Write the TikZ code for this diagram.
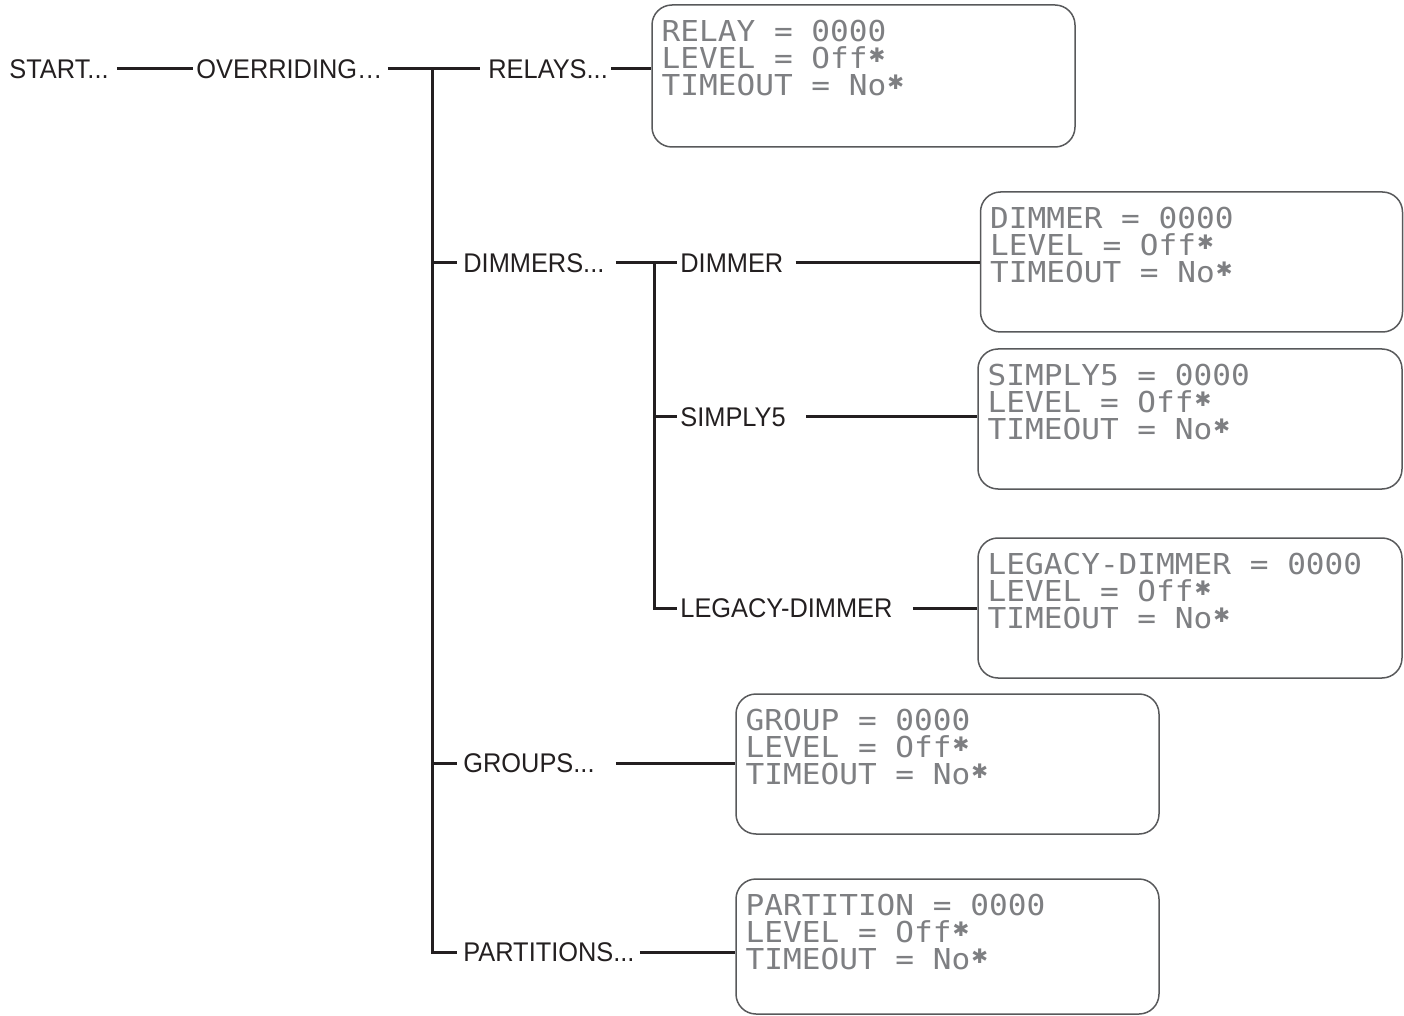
\documentclass[tikz,border=0pt]{standalone}
\usepackage{fontspec}
\setmainfont{Liberation Sans}[FakeStretch=0.94]
\newfontfamily\lcdfont{DejaVu Sans Mono}[FakeStretch=1.08]
\newfontfamily\symfont{DejaVu Sans}
\definecolor{ink}{HTML}{231F20}
\definecolor{boxgray}{HTML}{58595B}
\definecolor{lcdgray}{HTML}{7E7F82}
\newcommand\lcdstar{\makebox[9.36pt][c]{\raisebox{3pt}{\symfont\fontsize{10}{10}\selectfont ✱}}}
\tikzset{
  lbl/.style={anchor=west, inner sep=0pt, text=ink, font=\fontsize{13.5}{16}\selectfont},
  lcdbox/.style={draw=boxgray, line width=0.75pt, rounded corners=10pt, inner sep=0pt},
  lcdtext/.style={anchor=north west, inner sep=0pt, align=left, text=lcdgray,
    font=\lcdfont\fontsize{14.4}{13.5}\selectfont},
  conn/.style={draw=ink, line width=1.5pt}
}
\begin{document}
\begin{tikzpicture}[x=0.5pt,y=-0.5pt]
\useasboundingbox (0,0) rectangle (1404,1016);
% labels
\node[lbl] (start) at (9,69) {START...};
\node[lbl] (ovr) at (196,69) {OVERRIDING…};
\node[lbl] (relays) at (488,69) {RELAYS...};
\node[lbl] (dimmers) at (463,263) {DIMMERS...};
\node[lbl] (dimmer) at (680,263) {DIMMER};
\node[lbl] (simply) at (680,417) {SIMPLY5};
\node[lbl] (legacy) at (680,608) {LEGACY-DIMMER};
\node[lbl] (groups) at (463,763) {GROUPS...};
\node[lbl] (partitions) at (463,952) {PARTITIONS...};
% LCD boxes
\node[lcdbox, minimum width=211.5pt, minimum height=71pt] (relaybox) at (863.5,76) {};
\node[lcdbox, minimum width=211pt, minimum height=70pt] (dimbox) at (1191.5,262) {};
\node[lcdbox, minimum width=212pt, minimum height=70pt] (simbox) at (1190,419) {};
\node[lcdbox, minimum width=212pt, minimum height=70pt] (legbox) at (1190,608) {};
\node[lcdbox, minimum width=211.5pt, minimum height=70pt] (grpbox) at (947.5,764) {};
\node[lcdbox, minimum width=211.5pt, minimum height=67.5pt] (partbox) at (947.5,946.5) {};
% LCD texts
\node[lcdtext] (relaytxt) at ([xshift=5pt,yshift=-7.5pt]relaybox.north west) {RELAY = 0000\\LEVEL = Off\lcdstar\\TIMEOUT = No\lcdstar};
\node[lcdtext] (dimtxt) at ([xshift=5pt,yshift=-7.5pt]dimbox.north west) {DIMMER = 0000\\LEVEL = Off\lcdstar\\TIMEOUT = No\lcdstar};
\node[lcdtext] (simtxt) at ([xshift=5pt,yshift=-7.5pt]simbox.north west) {SIMPLY5 = 0000\\LEVEL = Off\lcdstar\\TIMEOUT = No\lcdstar};
\node[lcdtext] (legtxt) at ([xshift=5pt,yshift=-7.5pt]legbox.north west) {LEGACY-DIMMER = 0000\\LEVEL = Off\lcdstar\\TIMEOUT = No\lcdstar};
\node[lcdtext] (grptxt) at ([xshift=5pt,yshift=-7.5pt]grpbox.north west) {GROUP = 0000\\LEVEL = Off\lcdstar\\TIMEOUT = No\lcdstar};
\node[lcdtext] (parttxt) at ([xshift=5pt,yshift=-7.5pt]partbox.north west) {PARTITION = 0000\\LEVEL = Off\lcdstar\\TIMEOUT = No\lcdstar};
% trunk coordinates
\coordinate (trunk) at (432,69);
\coordinate (sub) at (654,263);
% connectors
\draw[conn] ([xshift=4pt]start.east) -- ([xshift=-1.5pt]ovr.west);
\draw[conn] ([xshift=2.5pt]ovr.east) -- ([xshift=-4pt]relays.west);
\draw[conn] ([xshift=1.5pt]relays.east) -- (relaybox.west |- relays.east);
\draw[conn] (trunk) |- ([xshift=-3pt]partitions.west);
\draw[conn] (trunk |- dimmers.west) -- ([xshift=-3pt]dimmers.west);
\draw[conn] (trunk |- groups.west) -- ([xshift=-3pt]groups.west);
\draw[conn] ([xshift=5.5pt]dimmers.east) -- ([xshift=-1.5pt]dimmer.west);
\draw[conn] (sub) |- ([xshift=-1.5pt]legacy.west);
\draw[conn] (sub |- simply.west) -- ([xshift=-1.5pt]simply.west);
\draw[conn] ([xshift=6pt]dimmer.east) -- (dimbox.west |- dimmer.east);
\draw[conn] ([xshift=10pt]simply.east) -- (simbox.west |- simply.east);
\draw[conn] ([xshift=10pt]legacy.east) -- (legbox.west |- legacy.east);
\draw[conn] ([xshift=10.5pt]groups.east) -- (grpbox.west |- groups.east);
\draw[conn] ([xshift=2.5pt]partitions.east) -- (partbox.west |- partitions.east);
\end{tikzpicture}
\end{document}
